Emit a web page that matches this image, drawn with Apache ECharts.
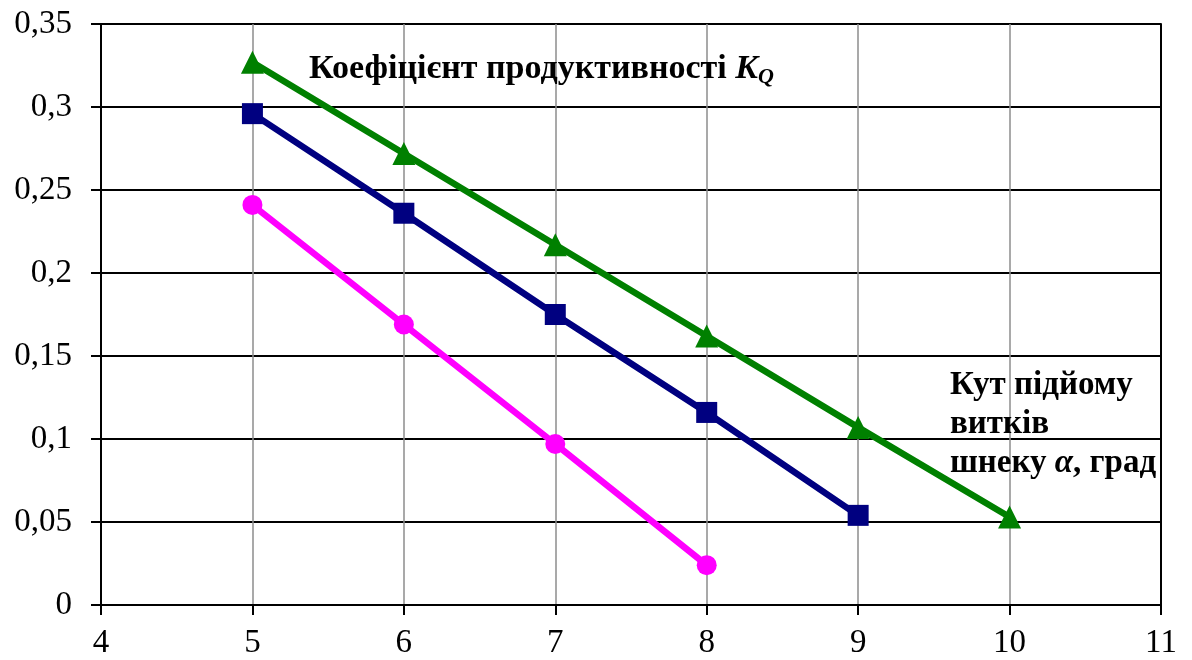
<!DOCTYPE html>
<html>
<head>
<meta charset="utf-8">
<script src="https://cdn.jsdelivr.net/npm/echarts@6/dist/echarts.min.js"></script>
<style>html,body{margin:0;padding:0;background:#fff}#c{width:1192px;height:660px}</style>
</head>
<body>
<div id="c"></div>
<script>
var xGreen = [5, 6, 7, 8, 9, 10];
var yGreen = [0.327, 0.272, 0.217, 0.162, 0.107, 0.053];
var xBlue = [5, 6, 7, 8, 9];
var yBlue = [0.296, 0.236, 0.175, 0.116, 0.054];
var xPink = [5, 6, 7, 8];
var yPink = [0.241, 0.169, 0.097, 0.024];
var titleY = 'Коефіцієнт продуктивності ';
var titleX = ['Кут підйому', 'витків', 'шнеку '];

function pairs(xs, ys) { return xs.map(function (x, i) { return [x, ys[i]]; }); }
var FONT = '"Liberation Serif", "DejaVu Serif", serif';

var chart = echarts.init(document.getElementById('c'));
chart.setOption({
  animation: false,
  backgroundColor: '#fff',
  grid: { left: 101, right: 31, top: 24, bottom: 55, containLabel: false },
  title: [
    {
      left: 304, top: 44,
      text: '{b|' + titleY + '}{i|K}{s|Q}',
      textStyle: {
        rich: {
          b: { fontFamily: FONT, fontWeight: 'bold', fontSize: 34, color: '#000', lineHeight: 40 },
          i: { fontFamily: FONT, fontWeight: 'bold', fontStyle: 'italic', fontSize: 34, color: '#000', lineHeight: 40 },
          s: { fontFamily: FONT, fontWeight: 'bold', fontStyle: 'italic', fontSize: 22, color: '#000', lineHeight: 40, padding: [16, 0, 0, 0] }
        }
      }
    },
    {
      left: 945, top: 361,
      text: '{b|' + titleX[0] + '}\n{b|' + titleX[1] + '}\n{b|' + titleX[2] + '}{i|α}{b|, град}',
      textStyle: {
        lineHeight: 39,
        rich: {
          b: { fontFamily: FONT, fontWeight: 'bold', fontSize: 33, color: '#000', lineHeight: 39 },
          i: { fontFamily: FONT, fontStyle: 'italic', fontSize: 33, color: '#000', lineHeight: 39 }
        }
      }
    }
  ],
  xAxis: {
    type: 'value', min: 4, max: 11, interval: 1,
    axisLine: { show: true, onZero: false, lineStyle: { color: '#000', width: 2 } },
    axisTick: { show: true, length: 10, lineStyle: { color: '#000', width: 2 } },
    axisLabel: { margin: 22, fontFamily: FONT, fontSize: 33, color: '#000' },
    splitLine: { show: true, lineStyle: { color: '#8c8c8c', width: 1.5 } }
  },
  yAxis: [
    {
      type: 'value', min: 0, max: 0.35, interval: 0.05,
      axisLine: { show: true, lineStyle: { color: '#000', width: 2 } },
      axisTick: { show: true, length: 10, lineStyle: { color: '#000', width: 2 } },
      axisLabel: {
        margin: 29, fontFamily: FONT, fontSize: 33, color: '#000',
        formatter: function (v) { return String(+v.toFixed(2)).replace('.', ','); }
      },
      splitLine: { show: true, lineStyle: { color: '#000', width: 2 } }
    },
    {
      type: 'value', min: 0, max: 0.35, interval: 0.05, position: 'right',
      axisLine: { show: true, lineStyle: { color: '#000', width: 2 } },
      axisTick: { show: false }, axisLabel: { show: false }, splitLine: { show: false }
    }
  ],
  series: [
    {
      type: 'line', data: pairs(xPink, yPink), symbol: 'circle', symbolSize: 20,
      lineStyle: { color: '#ff00ff', width: 6.5 }, itemStyle: { color: '#ff00ff' }, z: 3
    },
    {
      type: 'line', data: pairs(xBlue, yBlue), symbol: 'rect', symbolSize: 21,
      lineStyle: { color: '#000080', width: 6.5 }, itemStyle: { color: '#000080' }, z: 4
    },
    {
      type: 'line', data: pairs(xGreen, yGreen), symbol: 'triangle', symbolSize: 23,
      lineStyle: { color: '#008000', width: 6.5 }, itemStyle: { color: '#008000' }, z: 5
    }
  ]
});
</script>
</body>
</html>
